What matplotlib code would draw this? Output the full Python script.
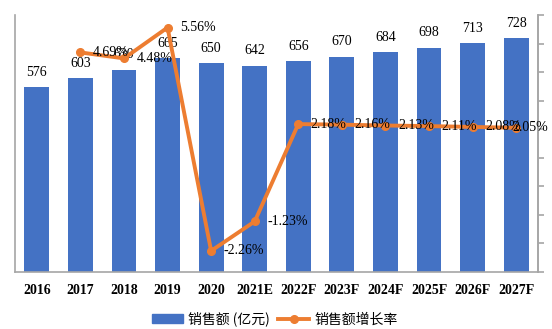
import matplotlib
matplotlib.use("Agg")
import matplotlib.pyplot as plt
from matplotlib.lines import Line2D
from matplotlib.patches import Patch

categories = ["2016", "2017", "2018", "2019", "2020", "2021E", "2022F",
              "2023F", "2024F", "2025F", "2026F", "2027F"]
sales = [576, 603, 630, 665, 650, 642, 656, 670, 684, 698, 713, 728]
growth_cats = categories[1:]
growth = [4.69, 4.48, 5.56, -2.26, -1.23, 2.18, 2.16, 2.13, 2.11, 2.08, 2.05]

bar_color = "#4472C4"
line_color = "#ED7D31"
serif = ["Liberation Serif", "DejaVu Serif"]
cjk = ["Noto Sans CJK SC", "DejaVu Sans"]

fig = plt.figure(figsize=(5.52, 3.29), dpi=100)
ax = fig.add_axes([15/552, 1-272/329, (538-15)/552, (272-15)/329])
x = list(range(len(categories)))
ax.bar(x, sales, width=0.57, color=bar_color, zorder=2)
ax.set_ylim(0, 800)
ax.set_xlim(-0.5, len(categories)-0.5)
ax.set_yticks([])
ax.set_xticks(x)
ax.set_xticklabels(categories, fontfamily=serif, fontsize=10, fontweight="bold")
ax.tick_params(axis="x", length=0, pad=9)
ax.spines["top"].set_visible(False)
for s in ["left", "bottom", "right"]:
    ax.spines[s].set_color("#A6A6A6")
    ax.spines[s].set_linewidth(1.2)
for xi, v in zip(x, sales):
    ax.annotate(str(v), (xi, v), xytext=(0, 6), textcoords="offset points",
                ha="center", va="bottom", fontfamily=serif, fontsize=10)

ax2 = ax.twinx()
ax2.set_ylim(-3, 6)
ax2.set_yticks(range(-3, 7))
ax2.set_yticklabels([])
ax2.tick_params(axis="y", direction="out", length=4, color="#A6A6A6", width=1.2)
ax2.spines["top"].set_visible(False)
ax2.spines["left"].set_visible(False)
ax2.spines["bottom"].set_visible(False)
ax2.spines["right"].set_color("#A6A6A6")
ax2.spines["right"].set_linewidth(1.2)
gx = x[1:]
ax2.plot(gx, growth, color=line_color, lw=2.8, marker="o", markersize=5.5, zorder=3)
for i, (xi, v) in enumerate(zip(gx, growth)):
    dx = 9 if i < len(growth) - 1 else -3
    ax2.annotate(f"{v:.2f}%", (xi, v), xytext=(dx, 0), textcoords="offset points",
                 ha="left", va="center", fontfamily=serif, fontsize=10, zorder=4,
                 annotation_clip=False)

handles = [Patch(color=bar_color),
           Line2D([0], [0], color=line_color, lw=2.8, marker="o", markersize=5.5)]
leg = fig.legend(handles, ["销售额 (亿元)", "销售额增长率"], loc="center",
                 bbox_to_anchor=(275/552, 1-319/329), ncol=2, frameon=False,
                 prop={"family": cjk, "size": 10}, handlelength=2.2,
                 columnspacing=0.6, handletextpad=0.4)
fig.savefig("out.png", dpi=100)
